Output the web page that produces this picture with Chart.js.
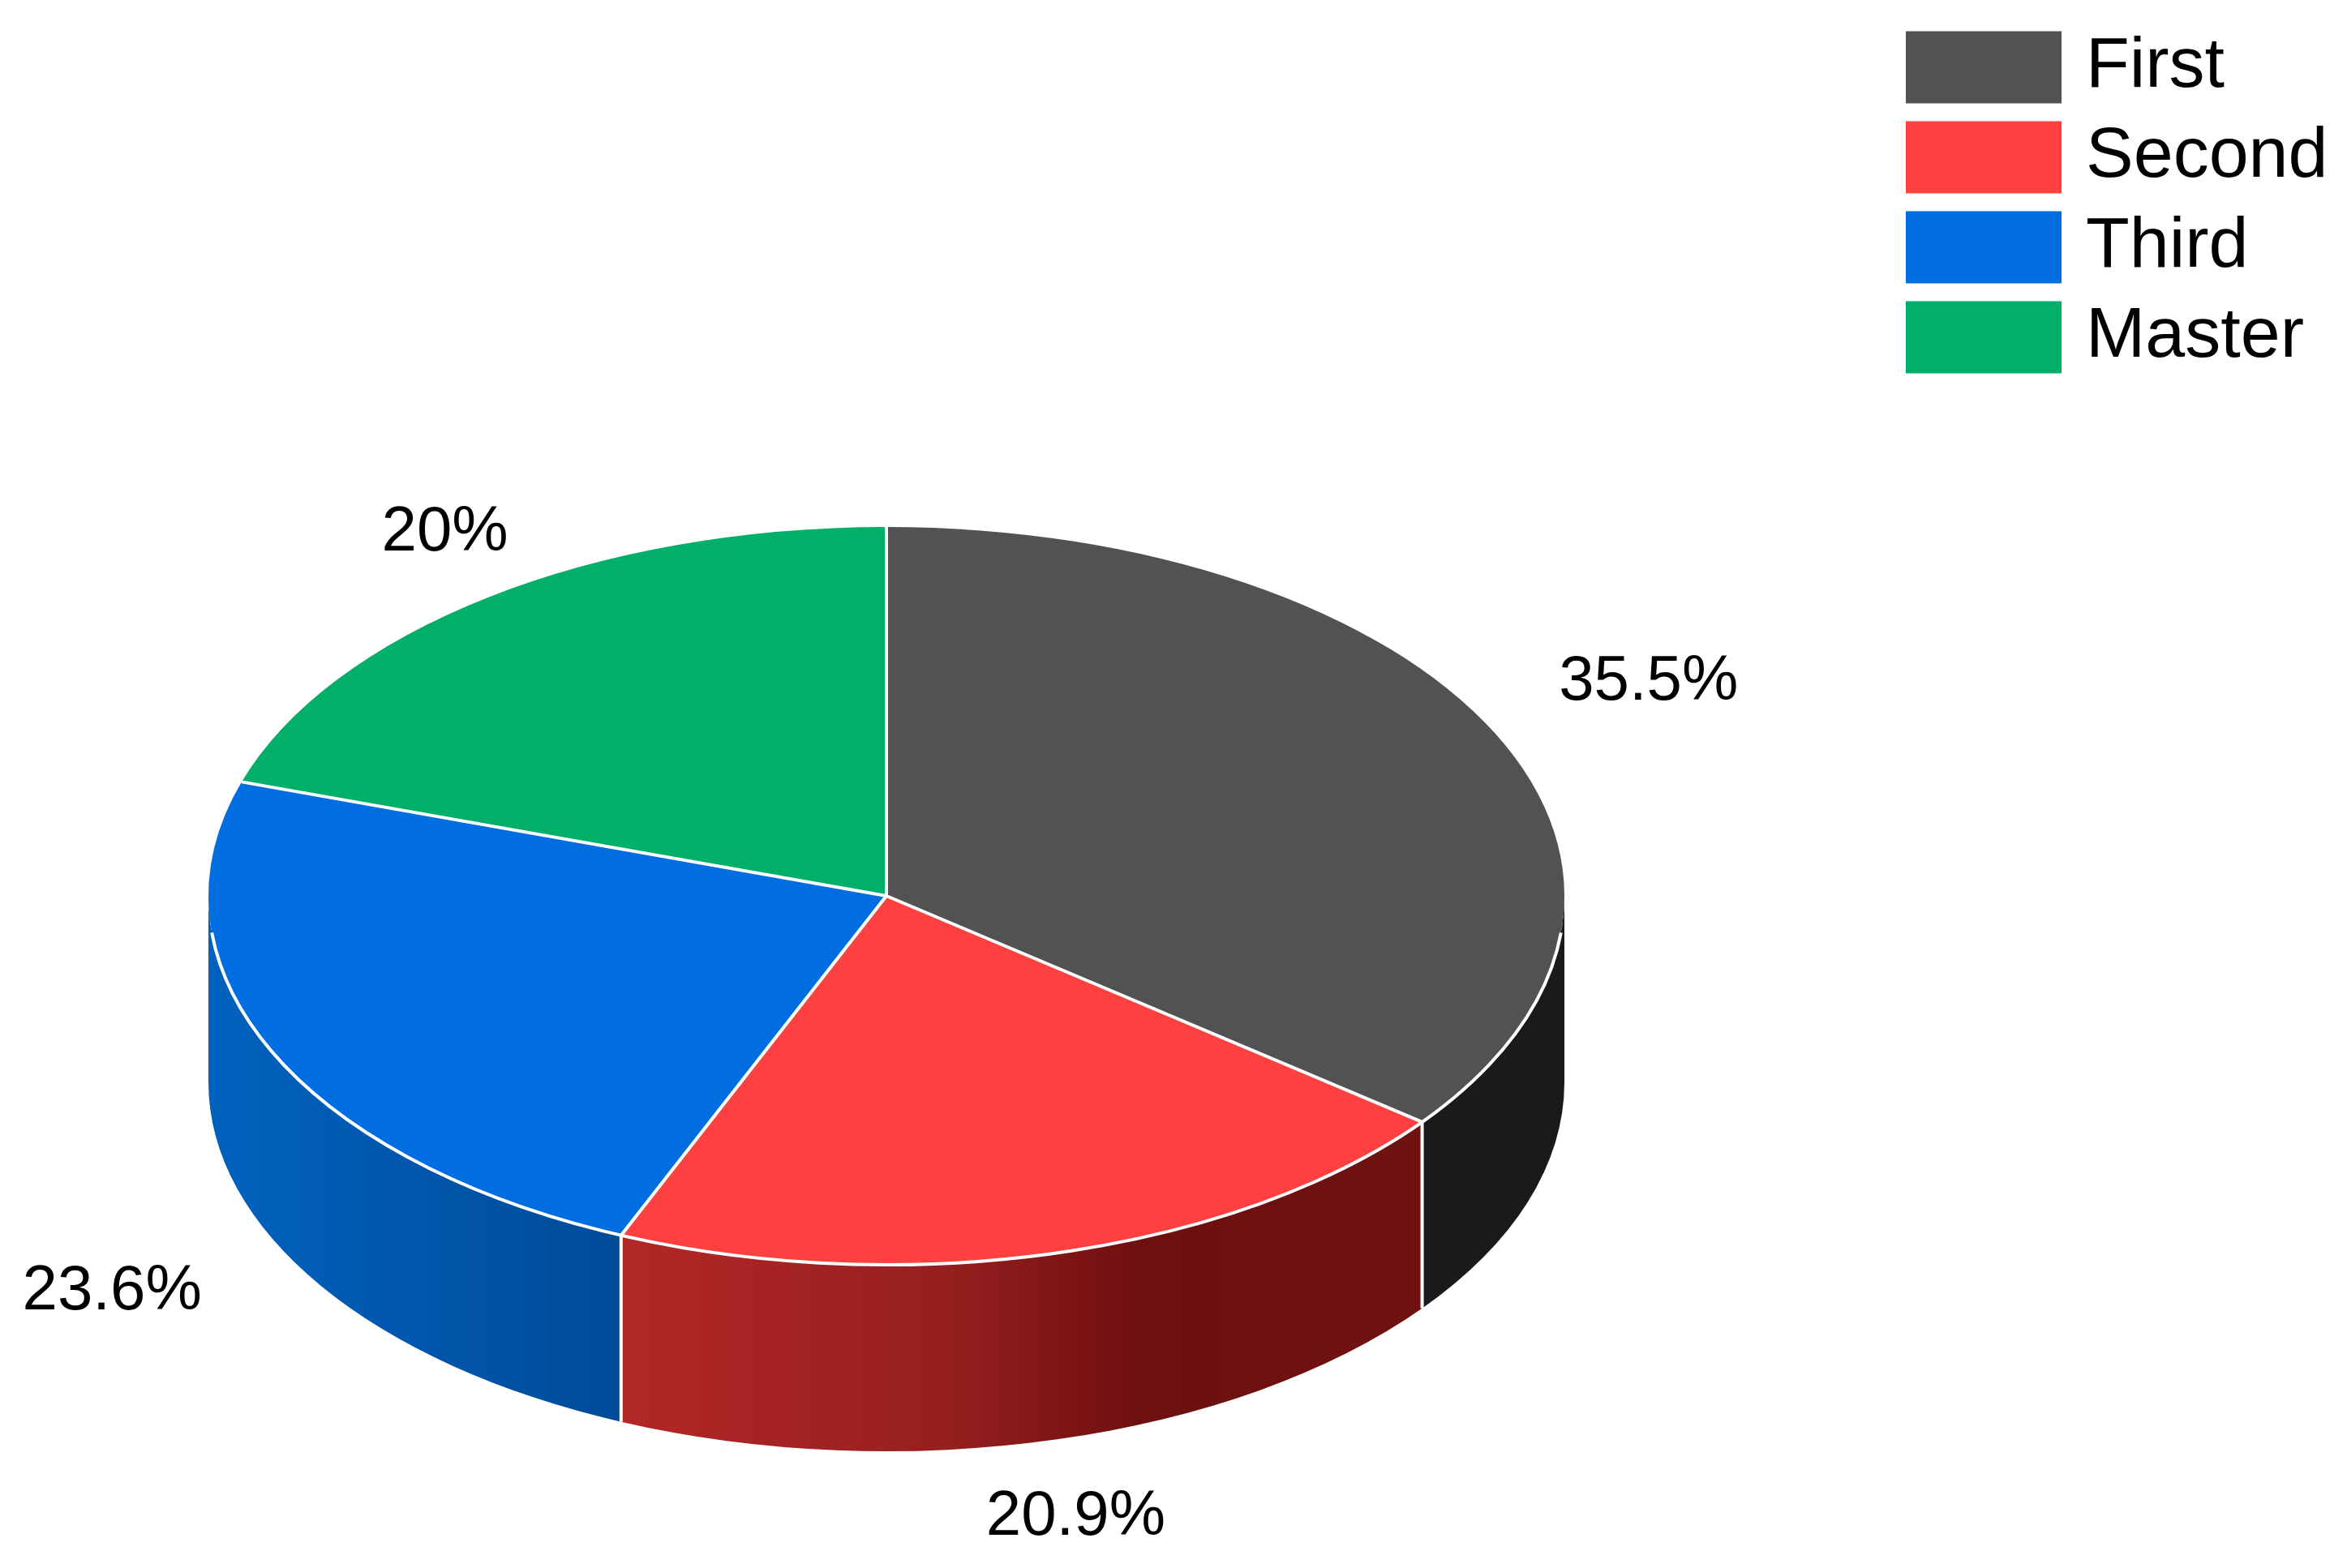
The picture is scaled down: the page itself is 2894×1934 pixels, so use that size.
<!DOCTYPE html>
<html>
<head>
<meta charset="utf-8">
<style>
	html, body { margin: 0; padding: 0; background: #fff; }
	canvas { display: block; }
</style>
<script src="https://cdn.jsdelivr.net/npm/chart.js@4/dist/chart.umd.min.js"></script>
</head>
<body>
<canvas id="myChart" width="2894" height="1934"></canvas>
<script>
const categorias = ['First', 'Second', 'Third', 'Master'];
const valores = [35.5, 20.9, 23.6, 20];
const etiquetas = ['35.5%', '20.9%', '23.6%', '20%'];

const colores = ['#525252', '#FF4040', '#006EE1', '#00AF68'];
// degradado del costado de cada porcion, de izquierda a derecha
const coloresLado = [
	[[0, '#1A1A1A'], [1, '#1A1A1A']],
	[[0, '#B32727'], [0.4, '#971F1F'], [0.65, '#6F0F0F'], [1, '#6E1212']],
	[[0, '#0062BE'], [1, '#004B99']],
	[[0, '#007A48'], [1, '#007A48']]
];
// desplazamiento de cada etiqueta respecto al borde de su porcion
const desplazamientos = [[189, -63], [23, 326], [-194, 300], [-53, -79]];

const RADIO = 836;
const ACHATADO = 455 / 836;
const CENTRO_Y = 1105;
const PROFUNDIDAD = 230;

// la tarta se dibuja achatada: todo lo vertical pasa por aqui
function yPlano(chart) {
	return chart.getDatasetMeta(0).data[0].y;
}

const tarta3d = {
	id: 'tarta3d',
	afterLayout(chart) {
		// la leyenda va arriba a la derecha, fuera del area de la tarta
		const legend = chart.legend;
		legend.left = 2341;
		legend.top = 16;
		legend.right = 2894;
		legend.bottom = 1934;
	},
	beforeDatasetsDraw(chart) {
		const ctx = chart.ctx;
		const arcos = chart.getDatasetMeta(0).data;
		const ry = RADIO * ACHATADO;

		arcos.forEach((arco, i) => {
			const a0 = Math.max(arco.startAngle, 0);
			const a1 = Math.min(arco.endAngle, Math.PI);
			if (a1 <= a0) return;

			const x1 = arco.x + RADIO * Math.min(Math.cos(a0), Math.cos(a1));
			const x2 = arco.x + RADIO * Math.max(Math.cos(a0), Math.cos(a1));
			const grad = ctx.createLinearGradient(x1, 0, x2, 0);
			coloresLado[i].forEach((stop) => grad.addColorStop(stop[0], stop[1]));

			ctx.beginPath();
			ctx.ellipse(arco.x, CENTRO_Y, RADIO, ry, 0, a0, a1);
			ctx.ellipse(arco.x, CENTRO_Y + PROFUNDIDAD, RADIO, ry, 0, a1, a0, true);
			ctx.closePath();
			ctx.fillStyle = grad;
			ctx.fill();
		});

		ctx.save();
		ctx.translate(0, CENTRO_Y);
		ctx.scale(1, ACHATADO);
		ctx.translate(0, -yPlano(chart));
	},
	afterDatasetsDraw(chart) {
		const ctx = chart.ctx;
		ctx.restore();

		const arcos = chart.getDatasetMeta(0).data;
		const ry = RADIO * ACHATADO;
		ctx.save();
		ctx.strokeStyle = '#fff';
		ctx.lineWidth = 4;

		arcos.forEach((arco) => {
			const px = arco.x + RADIO * Math.cos(arco.startAngle);
			const py = CENTRO_Y + ry * Math.sin(arco.startAngle);
			ctx.beginPath();
			ctx.moveTo(arco.x, CENTRO_Y);
			ctx.lineTo(px, py);
			// arista vertical solo en la parte delantera
			if (Math.sin(arco.startAngle) > 0) {
				ctx.lineTo(px, py + PROFUNDIDAD);
			}
			ctx.stroke();
		});

		ctx.beginPath();
		ctx.ellipse(arcos[0].x, CENTRO_Y, RADIO, ry, 0, 0.1, Math.PI - 0.1);
		ctx.stroke();
		ctx.restore();
	},
	afterDraw(chart) {
		const ctx = chart.ctx;
		const ry = RADIO * ACHATADO;
		ctx.save();
		ctx.font = '78px "Liberation Sans"';
		ctx.fillStyle = '#000';
		ctx.textAlign = 'center';
		ctx.textBaseline = 'middle';
		chart.getDatasetMeta(0).data.forEach((arco, i) => {
			const medio = (arco.startAngle + arco.endAngle) / 2;
			const x = arco.x + RADIO * Math.cos(medio) + desplazamientos[i][0];
			const y = CENTRO_Y + ry * Math.sin(medio) + desplazamientos[i][1];
			ctx.fillText(etiquetas[i], x, y);
		});
		ctx.restore();
	}
};

var ctx = document.getElementById('myChart').getContext('2d');

var myChart = new Chart(ctx, {
	type: 'pie',
	data: {
		labels: categorias,
		datasets: [
			{
				data: valores,
				backgroundColor: colores,
				borderWidth: 0,
				radius: RADIO,
				clip: false
			}
		]
	},
	options: {
		responsive: false,
		animation: false,
		events: [],
		layout: {
			padding: { left: 257, right: 965 }
		},
		plugins: {
			tooltip: { enabled: false },
			legend: {
				position: 'chartArea',
				align: 'start',
				labels: {
					// el trazo grueso acerca el texto a la caja, que en Chart.js queda a medio font
					boxWidth: 164,
					boxHeight: 61,
					padding: 23,
					color: '#000',
					font: { family: '"Liberation Sans"', size: 88 },
					generateLabels() {
						return categorias.map((nombre, i) => ({
							text: nombre,
							fillStyle: colores[i],
							strokeStyle: colores[i],
							lineWidth: 28,
							hidden: false,
							index: i
						}));
					}
				}
			}
		}
	},
	plugins: [tarta3d]
});
</script>
</body>
</html>
